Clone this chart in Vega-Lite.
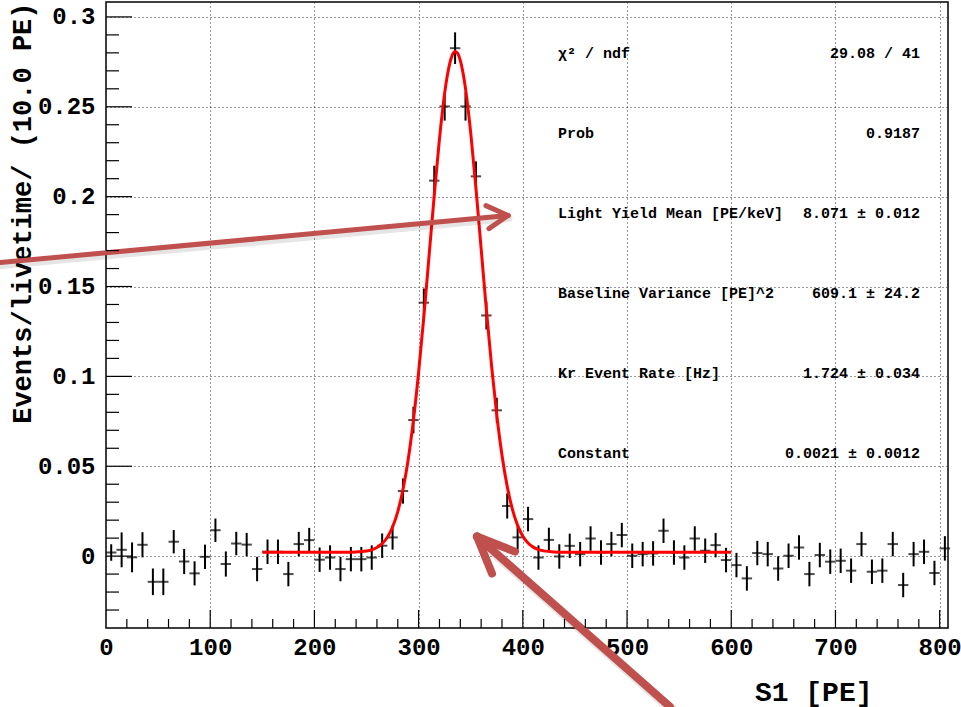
{
  "$schema": "https://vega.github.io/schema/vega-lite/v6.json",
  "width": 842,
  "height": 626,
  "autosize": {"type": "none"},
  "padding": {"left": 106, "top": 2, "right": 13, "bottom": 79},
  "background": "white",
  "config": {
    "view": {"stroke": "black", "strokeWidth": 1.5},
    "axis": {
      "labelFont": "Liberation Mono",
      "titleFont": "Liberation Mono",
      "labelFontWeight": "bold",
      "titleFontWeight": "bold",
      "labelColor": "black",
      "titleColor": "black",
      "domain": false,
      "labelFlush": false,
      "labelOverlap": false
    }
  },
  "datasets": {
    "bins": [
      {"s1": 5, "rate": 0.0020, "err": 0.0046},
      {"s1": 15, "rate": 0.0035, "err": 0.0097},
      {"s1": 25, "rate": -0.0007, "err": 0.0083},
      {"s1": 35, "rate": 0.0063, "err": 0.0070},
      {"s1": 45, "rate": -0.0143, "err": 0.0074},
      {"s1": 55, "rate": -0.0143, "err": 0.0074},
      {"s1": 65, "rate": 0.0080, "err": 0.0065},
      {"s1": 75, "rate": -0.0030, "err": 0.0070},
      {"s1": 85, "rate": -0.0096, "err": 0.0067},
      {"s1": 95, "rate": -0.0004, "err": 0.0068},
      {"s1": 105, "rate": 0.0144, "err": 0.0065},
      {"s1": 115, "rate": -0.0044, "err": 0.0070},
      {"s1": 125, "rate": 0.0070, "err": 0.0065},
      {"s1": 135, "rate": 0.0064, "err": 0.0065},
      {"s1": 145, "rate": -0.0072, "err": 0.0068},
      {"s1": 155, "rate": 0.0024, "err": 0.0068},
      {"s1": 165, "rate": 0.0024, "err": 0.0068},
      {"s1": 175, "rate": -0.0100, "err": 0.0068},
      {"s1": 185, "rate": 0.0067, "err": 0.0068},
      {"s1": 195, "rate": 0.0089, "err": 0.0068},
      {"s1": 205, "rate": -0.0020, "err": 0.0068},
      {"s1": 215, "rate": -0.0008, "err": 0.0068},
      {"s1": 225, "rate": -0.0072, "err": 0.0068},
      {"s1": 235, "rate": -0.0017, "err": 0.0068},
      {"s1": 245, "rate": -0.0017, "err": 0.0068},
      {"s1": 255, "rate": -0.0008, "err": 0.0068},
      {"s1": 265, "rate": 0.0058, "err": 0.0068},
      {"s1": 275, "rate": 0.0104, "err": 0.0068},
      {"s1": 285, "rate": 0.0362, "err": 0.0070},
      {"s1": 295, "rate": 0.0757, "err": 0.0074},
      {"s1": 305, "rate": 0.1410, "err": 0.0079},
      {"s1": 315, "rate": 0.2089, "err": 0.0083},
      {"s1": 325, "rate": 0.2502, "err": 0.0079},
      {"s1": 335, "rate": 0.2826, "err": 0.0088},
      {"s1": 345, "rate": 0.2502, "err": 0.0079},
      {"s1": 355, "rate": 0.2113, "err": 0.0083},
      {"s1": 365, "rate": 0.1339, "err": 0.0078},
      {"s1": 375, "rate": 0.0811, "err": 0.0070},
      {"s1": 385, "rate": 0.0279, "err": 0.0070},
      {"s1": 395, "rate": 0.0104, "err": 0.0068},
      {"s1": 405, "rate": 0.0206, "err": 0.0068},
      {"s1": 415, "rate": -0.0008, "err": 0.0068},
      {"s1": 425, "rate": 0.0090, "err": 0.0068},
      {"s1": 435, "rate": -0.0002, "err": 0.0068},
      {"s1": 445, "rate": 0.0057, "err": 0.0068},
      {"s1": 455, "rate": 0.0011, "err": 0.0068},
      {"s1": 465, "rate": 0.0098, "err": 0.0068},
      {"s1": 475, "rate": 0.0020, "err": 0.0068},
      {"s1": 485, "rate": 0.0067, "err": 0.0068},
      {"s1": 495, "rate": 0.0117, "err": 0.0068},
      {"s1": 505, "rate": 0.0002, "err": 0.0068},
      {"s1": 515, "rate": 0.0011, "err": 0.0068},
      {"s1": 525, "rate": 0.0015, "err": 0.0068},
      {"s1": 535, "rate": 0.0141, "err": 0.0068},
      {"s1": 545, "rate": 0.0020, "err": 0.0068},
      {"s1": 555, "rate": -0.0008, "err": 0.0068},
      {"s1": 565, "rate": 0.0098, "err": 0.0068},
      {"s1": 575, "rate": 0.0030, "err": 0.0068},
      {"s1": 585, "rate": 0.0061, "err": 0.0068},
      {"s1": 595, "rate": -0.0022, "err": 0.0068},
      {"s1": 605, "rate": -0.0050, "err": 0.0068},
      {"s1": 615, "rate": -0.0124, "err": 0.0068},
      {"s1": 625, "rate": 0.0017, "err": 0.0068},
      {"s1": 635, "rate": 0.0011, "err": 0.0068},
      {"s1": 645, "rate": -0.0069, "err": 0.0068},
      {"s1": 655, "rate": 0.0002, "err": 0.0068},
      {"s1": 665, "rate": 0.0048, "err": 0.0068},
      {"s1": 675, "rate": -0.0100, "err": 0.0068},
      {"s1": 685, "rate": 0.0006, "err": 0.0068},
      {"s1": 695, "rate": -0.0031, "err": 0.0068},
      {"s1": 705, "rate": -0.0026, "err": 0.0068},
      {"s1": 715, "rate": -0.0081, "err": 0.0068},
      {"s1": 725, "rate": 0.0067, "err": 0.0068},
      {"s1": 735, "rate": -0.0087, "err": 0.0068},
      {"s1": 745, "rate": -0.0081, "err": 0.0068},
      {"s1": 755, "rate": 0.0067, "err": 0.0068},
      {"s1": 765, "rate": -0.0161, "err": 0.0068},
      {"s1": 775, "rate": 0.0011, "err": 0.0068},
      {"s1": 785, "rate": 0.0024, "err": 0.0068},
      {"s1": 795, "rate": -0.0094, "err": 0.0068},
      {"s1": 805, "rate": 0.0043, "err": 0.0068}
    ],
    "fit": [
      {"s1": 150, "rate": 0.0021},
      {"s1": 200, "rate": 0.0021},
      {"s1": 230, "rate": 0.00213},
      {"s1": 240, "rate": 0.00226},
      {"s1": 250, "rate": 0.00281},
      {"s1": 255, "rate": 0.0035},
      {"s1": 260, "rate": 0.00475},
      {"s1": 265, "rate": 0.00692},
      {"s1": 270, "rate": 0.01052},
      {"s1": 275, "rate": 0.01619},
      {"s1": 280, "rate": 0.02475},
      {"s1": 285, "rate": 0.03703},
      {"s1": 290, "rate": 0.0538},
      {"s1": 295, "rate": 0.0756},
      {"s1": 300, "rate": 0.1023},
      {"s1": 305, "rate": 0.1333},
      {"s1": 310, "rate": 0.1669},
      {"s1": 315, "rate": 0.2008},
      {"s1": 320, "rate": 0.2321},
      {"s1": 325, "rate": 0.2576},
      {"s1": 327.5, "rate": 0.2672},
      {"s1": 330, "rate": 0.2744},
      {"s1": 332.5, "rate": 0.2790},
      {"s1": 335, "rate": 0.2808},
      {"s1": 337.5, "rate": 0.2797},
      {"s1": 340, "rate": 0.2758},
      {"s1": 342.5, "rate": 0.2692},
      {"s1": 345, "rate": 0.2601},
      {"s1": 350, "rate": 0.2355},
      {"s1": 355, "rate": 0.2048},
      {"s1": 360, "rate": 0.1710},
      {"s1": 365, "rate": 0.1372},
      {"s1": 370, "rate": 0.1058},
      {"s1": 375, "rate": 0.0785},
      {"s1": 380, "rate": 0.0561},
      {"s1": 385, "rate": 0.0388},
      {"s1": 390, "rate": 0.0260},
      {"s1": 395, "rate": 0.0171},
      {"s1": 400, "rate": 0.0111},
      {"s1": 405, "rate": 0.0073},
      {"s1": 410, "rate": 0.0050},
      {"s1": 415, "rate": 0.0036},
      {"s1": 420, "rate": 0.0029},
      {"s1": 430, "rate": 0.0023},
      {"s1": 440, "rate": 0.00213},
      {"s1": 500, "rate": 0.0021},
      {"s1": 600, "rate": 0.0021}
    ],
    "xMajor": [
      {"v": 100}, {"v": 200}, {"v": 300}, {"v": 400}, {"v": 500}, {"v": 600}, {"v": 700}, {"v": 800}
    ],
    "xMinor": [
      {"v": 20}, {"v": 40}, {"v": 60}, {"v": 80}, {"v": 120}, {"v": 140}, {"v": 160}, {"v": 180},
      {"v": 220}, {"v": 240}, {"v": 260}, {"v": 280}, {"v": 320}, {"v": 340}, {"v": 360}, {"v": 380},
      {"v": 420}, {"v": 440}, {"v": 460}, {"v": 480}, {"v": 520}, {"v": 540}, {"v": 560}, {"v": 580},
      {"v": 620}, {"v": 640}, {"v": 660}, {"v": 680}, {"v": 720}, {"v": 740}, {"v": 760}, {"v": 780}
    ],
    "yMajor": [
      {"v": 0}, {"v": 0.05}, {"v": 0.1}, {"v": 0.15}, {"v": 0.2}, {"v": 0.25}, {"v": 0.3}
    ],
    "yMinor": [
      {"v": -0.03}, {"v": -0.02}, {"v": -0.01}, {"v": 0.01}, {"v": 0.02}, {"v": 0.03}, {"v": 0.04},
      {"v": 0.06}, {"v": 0.07}, {"v": 0.08}, {"v": 0.09}, {"v": 0.11}, {"v": 0.12}, {"v": 0.13}, {"v": 0.14},
      {"v": 0.16}, {"v": 0.17}, {"v": 0.18}, {"v": 0.19}, {"v": 0.21}, {"v": 0.22}, {"v": 0.23}, {"v": 0.24},
      {"v": 0.26}, {"v": 0.27}, {"v": 0.28}, {"v": 0.29}
    ],
    "stats": [
      {"row": 1, "name": "χ² / ndf", "value": "29.08 / 41"},
      {"row": 2, "name": "Prob", "value": "0.9187"},
      {"row": 3, "name": "Light Yield Mean [PE/keV]", "value": "8.071 ± 0.012"},
      {"row": 4, "name": "Baseline Variance [PE]^2", "value": "609.1 ± 24.2"},
      {"row": 5, "name": "Kr Event Rate [Hz]", "value": "1.724 ± 0.034"},
      {"row": 6, "name": "Constant", "value": "0.0021 ± 0.0012"}
    ]
  },
  "layer": [
    {
      "layer": [
        {
          "data": {"name": "fit"},
          "mark": {"type": "line", "color": "#ff0000", "strokeWidth": 3, "interpolate": "monotone", "opacity": 0},
          "encoding": {
            "x": {
              "field": "s1", "type": "quantitative",
              "scale": {"domain": [0, 808], "nice": false, "zero": false},
              "axis": {
                "orient": "bottom", "ticks": false,
                "grid": true, "gridColor": "#333333", "gridDash": [1, 3], "gridWidth": 1,
                "values": [0, 100, 200, 300, 400, 500, 600, 700, 800],
                "format": "d", "labelFontSize": 24, "labelPadding": 7,
                "title": "S1 [PE]", "titleFontSize": 28,
                "titleX": 766, "titleY": 72, "titleAlign": "right", "titleBaseline": "alphabetic"
              }
            },
            "y": {
              "field": "rate", "type": "quantitative",
              "scale": {"domain": [-0.04, 0.3083], "nice": false, "zero": false},
              "axis": {
                "orient": "left", "ticks": false,
                "grid": true, "gridColor": "#333333", "gridDash": [1, 3], "gridWidth": 1,
                "values": [0, 0.05, 0.1, 0.15, 0.2, 0.25, 0.3],
                "format": "~g", "labelFontSize": 24, "labelPadding": 11,
                "title": "Events/livetime/ (10.0 PE)", "titleFontSize": 27,
                "titleAngle": 270, "titleX": -84, "titleY": 0,
                "titleAlign": "right", "titleBaseline": "middle"
              }
            }
          }
        },
        {
          "data": {"name": "bins"},
          "mark": {"type": "errorbar", "color": "black", "thickness": 2},
          "encoding": {
            "x": {"field": "s1", "type": "quantitative", "axis": null},
            "y": {"field": "rate", "type": "quantitative", "axis": null},
            "yError": {"field": "err"}
          }
        },
        {
          "data": {"name": "bins"},
          "mark": {"type": "tick", "orient": "horizontal", "size": 10.4, "thickness": 2, "color": "black"},
          "encoding": {
            "x": {"field": "s1", "type": "quantitative", "axis": null},
            "y": {"field": "rate", "type": "quantitative", "axis": null}
          }
        },
        {
          "data": {"name": "fit"},
          "mark": {"type": "line", "color": "#ff0000", "strokeWidth": 3, "interpolate": "monotone"},
          "encoding": {
            "x": {"field": "s1", "type": "quantitative", "axis": null},
            "y": {"field": "rate", "type": "quantitative", "axis": null}
          }
        },
        {
          "data": {"values": [{}]},
          "mark": {"type": "rule", "color": "#000000", "opacity": 0.1, "strokeWidth": 7, "strokeCap": "round", "xOffset": 1, "x2Offset": 1, "yOffset": 3, "y2Offset": 3},
          "encoding": {
            "x": {"datum": -101.7, "type": "quantitative", "axis": null},
            "y": {"datum": 0.1633, "type": "quantitative", "axis": null},
            "x2": {"datum": 385.8},
            "y2": {"datum": 0.1895}
          }
        },
        {
          "data": {"values": [{}]},
          "mark": {"type": "rule", "color": "#000000", "opacity": 0.1, "strokeWidth": 10, "strokeCap": "round", "xOffset": 2, "x2Offset": 2, "yOffset": 3, "y2Offset": 3},
          "encoding": {
            "x": {"datum": 541.2, "type": "quantitative", "axis": null},
            "y": {"datum": -0.0838, "type": "quantitative", "axis": null},
            "x2": {"datum": 356.0},
            "y2": {"datum": 0.0109}
          }
        },
        {
          "data": {"values": [{}]},
          "mark": {"type": "rule", "color": "#c0504d", "strokeWidth": 5, "strokeCap": "round"},
          "encoding": {
            "x": {"datum": -101.7, "type": "quantitative", "axis": null},
            "y": {"datum": 0.1633, "type": "quantitative", "axis": null},
            "x2": {"datum": 385.8},
            "y2": {"datum": 0.1895}
          }
        },
        {
          "data": {"values": [{}]},
          "mark": {"type": "rule", "color": "#c0504d", "strokeWidth": 5, "strokeCap": "round"},
          "encoding": {
            "x": {"datum": 364.6, "type": "quantitative", "axis": null},
            "y": {"datum": 0.1950, "type": "quantitative", "axis": null},
            "x2": {"datum": 385.8},
            "y2": {"datum": 0.1895}
          }
        },
        {
          "data": {"values": [{}]},
          "mark": {"type": "rule", "color": "#c0504d", "strokeWidth": 5, "strokeCap": "round"},
          "encoding": {
            "x": {"datum": 367.5, "type": "quantitative", "axis": null},
            "y": {"datum": 0.1822, "type": "quantitative", "axis": null},
            "x2": {"datum": 385.8},
            "y2": {"datum": 0.1895}
          }
        },
        {
          "data": {"values": [{}]},
          "mark": {"type": "rule", "color": "#c0504d", "strokeWidth": 8, "strokeCap": "round"},
          "encoding": {
            "x": {"datum": 541.2, "type": "quantitative", "axis": null},
            "y": {"datum": -0.0838, "type": "quantitative", "axis": null},
            "x2": {"datum": 356.0},
            "y2": {"datum": 0.0109}
          }
        },
        {
          "data": {"values": [{}]},
          "mark": {"type": "rule", "color": "#c0504d", "strokeWidth": 8, "strokeCap": "round"},
          "encoding": {
            "x": {"datum": 392.5, "type": "quantitative", "axis": null},
            "y": {"datum": 0.0025, "type": "quantitative", "axis": null},
            "x2": {"datum": 356.0},
            "y2": {"datum": 0.0109}
          }
        },
        {
          "data": {"values": [{}]},
          "mark": {"type": "rule", "color": "#c0504d", "strokeWidth": 8, "strokeCap": "round"},
          "encoding": {
            "x": {"datum": 370.4, "type": "quantitative", "axis": null},
            "y": {"datum": -0.0097, "type": "quantitative", "axis": null},
            "x2": {"datum": 356.0},
            "y2": {"datum": 0.0109}
          }
        }
      ],
      "resolve": {"axis": {"x": "independent", "y": "independent"}}
    },
    {
      "data": {"name": "stats"},
      "layer": [
        {
          "mark": {"type": "text", "align": "left", "baseline": "middle", "font": "Liberation Mono", "fontWeight": "bold", "fontSize": 15, "color": "black"},
          "encoding": {
            "x": {"datum": 433.7, "type": "quantitative", "scale": {"domain": [0, 808], "nice": false, "zero": false}, "axis": null},
            "y": {"field": "row", "type": "quantitative", "scale": {"domain": [0.3625, 8.1875], "reverse": true, "nice": false, "zero": false}, "axis": null},
            "text": {"field": "name"}
          }
        },
        {
          "mark": {"type": "text", "align": "right", "baseline": "middle", "font": "Liberation Mono", "fontWeight": "bold", "fontSize": 15, "color": "black"},
          "encoding": {
            "x": {"datum": 781.1, "type": "quantitative", "scale": {"domain": [0, 808], "nice": false, "zero": false}, "axis": null},
            "y": {"field": "row", "type": "quantitative", "scale": {"domain": [0.3625, 8.1875], "reverse": true, "nice": false, "zero": false}, "axis": null},
            "text": {"field": "value"}
          }
        }
      ]
    },
    {
      "layer": [
        {
          "data": {"name": "xMajor"},
          "mark": {"type": "rule", "color": "black", "strokeWidth": 1.2},
          "encoding": {
            "x": {"field": "v", "type": "quantitative", "scale": {"domain": [0, 808], "nice": false, "zero": false}, "axis": null},
            "y": {"datum": -0.04, "type": "quantitative", "scale": {"domain": [-0.04, 0.3083], "nice": false, "zero": false}, "axis": null},
            "y2": {"datum": -0.03}
          }
        },
        {
          "data": {"name": "xMinor"},
          "mark": {"type": "rule", "color": "black", "strokeWidth": 1.2},
          "encoding": {
            "x": {"field": "v", "type": "quantitative", "axis": null},
            "y": {"datum": -0.04, "type": "quantitative", "axis": null},
            "y2": {"datum": -0.035}
          }
        },
        {
          "data": {"name": "yMajor"},
          "mark": {"type": "rule", "color": "black", "strokeWidth": 1.2},
          "encoding": {
            "y": {"field": "v", "type": "quantitative", "axis": null},
            "x": {"datum": 0, "type": "quantitative", "axis": null},
            "x2": {"datum": 25}
          }
        },
        {
          "data": {"name": "yMinor"},
          "mark": {"type": "rule", "color": "black", "strokeWidth": 1.2},
          "encoding": {
            "y": {"field": "v", "type": "quantitative", "axis": null},
            "x": {"datum": 0, "type": "quantitative", "axis": null},
            "x2": {"datum": 12.5}
          }
        }
      ]
    }
  ],
  "resolve": {"scale": {"y": "independent"}, "axis": {"x": "independent", "y": "independent"}}
}
